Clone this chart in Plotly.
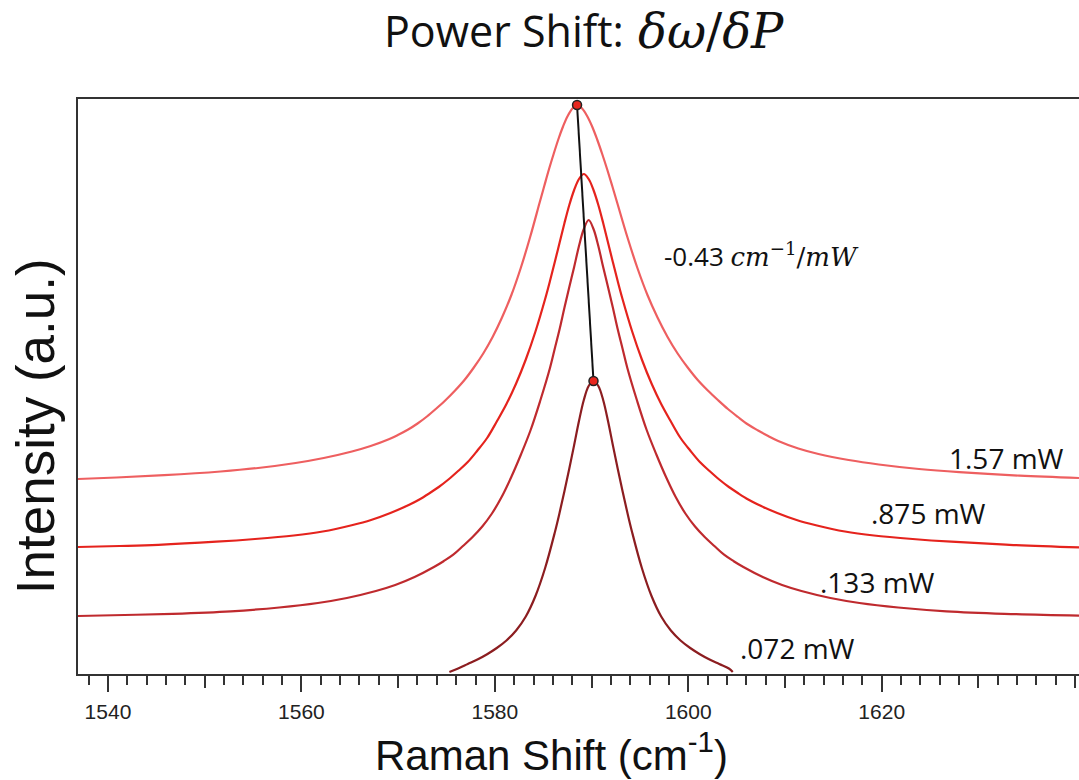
import plotly.graph_objects as go

# ---- data (Raman shift in cm^-1, intensity in arbitrary units incl. stacking offset) ----
x_157 = [1536.90, 1540.87, 1545.82, 1551.64, 1555.52, 1559.40, 1562.31, 1565.22, 1567.16, 1569.10,
         1570.07, 1571.04, 1572.01, 1572.98, 1573.95, 1574.92, 1575.89, 1576.86, 1577.83, 1578.80,
         1579.77, 1580.74, 1581.71, 1582.68, 1583.65, 1584.62, 1585.11, 1585.59, 1586.08, 1586.56,
         1587.05, 1587.53, 1588.02, 1588.50, 1589.02, 1589.54, 1590.06, 1590.58, 1591.10, 1591.62,
         1592.14, 1592.66, 1593.70, 1594.74, 1595.78, 1596.82, 1597.86, 1598.90, 1599.94, 1600.98,
         1602.02, 1603.06, 1604.10, 1605.14, 1606.18, 1607.22, 1608.26, 1609.30, 1611.38, 1613.46,
         1616.58, 1619.70, 1623.86, 1628.02, 1634.26, 1640.40]
y_157 = [195, 196.5, 198.8, 202.5, 206, 211, 216, 222.5, 228, 235,
         239.5, 244.5, 250.5, 257.5, 265.5, 274, 283.5, 294, 306.5, 320.5,
         337, 356.5, 379, 406, 437, 471, 488, 504.5, 520, 534.5,
         547.5, 558, 565.5, 569, 565.5, 558, 547.5, 534.5, 520, 504.5,
         488, 471, 437, 406, 379, 356.5, 337, 320.5, 306.5, 294,
         283.5, 274, 265, 257, 249.5, 243.5, 238, 233, 225.5, 220,
         214, 209.5, 205, 201.8, 198.3, 196]

x_0875 = [1536.9, 1541.2, 1545.2, 1551.2, 1555.2, 1559.2, 1562.2, 1565.2, 1567.2, 1569.2,
          1571.2, 1572.2, 1573.2, 1574.2, 1575.2, 1576.2, 1577.2, 1578.2, 1579.2, 1580.2,
          1581.2, 1582.2, 1583.2, 1584.2, 1585.2, 1585.7, 1586.2, 1586.7, 1587.2, 1587.7,
          1588.2, 1588.7, 1589.2, 1589.7, 1590.2, 1590.7, 1591.2, 1591.7, 1592.2, 1592.7,
          1593.2, 1594.2, 1595.2, 1596.2, 1597.2, 1598.2, 1599.2, 1600.2, 1601.2, 1602.2,
          1603.2, 1604.2, 1605.2, 1606.2, 1607.2, 1609.2, 1611.2, 1613.2, 1616.2, 1619.2,
          1623.2, 1627.2, 1633.2, 1640.4]
y_0875 = [127, 128, 129.2, 132.3, 135, 138.5, 142.5, 148.8, 154, 161,
          169.5, 174.5, 180.5, 187, 194.5, 203, 212, 223.5, 236, 252.5,
          270, 290.5, 314.5, 342.5, 375, 393, 412, 431.5, 451, 469,
          484, 495, 500, 495, 484, 469, 451, 431.5, 412, 393,
          375, 342.5, 314.5, 290.5, 270, 252.5, 236, 223.5, 212, 203,
          194.5, 187, 180.5, 174.5, 169.5, 161, 154, 148.8, 142.5, 138.5,
          135, 132.3, 129.2, 126.6]

x_0133 = [1536.9, 1541.7, 1546.7, 1552.7, 1557.7, 1561.7, 1564.7, 1567.7, 1569.7, 1571.7,
          1573.7, 1574.7, 1575.7, 1576.7, 1577.7, 1578.7, 1579.7, 1580.7, 1581.7, 1582.7,
          1583.7, 1584.7, 1585.7, 1586.2, 1586.7, 1587.2, 1587.7, 1588.2, 1588.7, 1589.2,
          1589.7, 1590.2, 1590.7, 1591.2, 1591.7, 1592.2, 1592.7, 1593.2, 1593.7, 1594.7,
          1595.7, 1596.7, 1597.7, 1598.7, 1599.7, 1600.7, 1601.7, 1602.7, 1603.7, 1604.7,
          1605.7, 1607.7, 1609.7, 1611.7, 1614.7, 1617.7, 1621.7, 1626.7, 1632.7, 1640.4]
y_0133 = [58, 59, 60.2, 62.7, 66.5, 71, 76, 83, 89, 97,
          107, 112.8, 119.3, 128, 137, 147.5, 160.5, 177, 197, 219.5,
          244, 273.5, 306, 325.5, 345, 366.5, 387, 407, 428, 445,
          454, 445, 428, 407, 387, 366.5, 345, 325.5, 306, 273.5,
          244, 219.5, 197, 177, 160.5, 147.5, 137, 128, 119.3, 112.8,
          107, 97, 89, 83, 76, 71, 66.5, 62.7, 60.2, 58.3]

x_0072 = [1575.3, 1576.2, 1577.2, 1578.2, 1579.2, 1580.2, 1581.2, 1582.2, 1583.2, 1584.2,
          1585.2, 1586.2, 1586.7, 1587.2, 1587.7, 1588.2, 1588.7, 1589.2, 1589.7, 1590.2,
          1590.7, 1591.2, 1591.7, 1592.2, 1592.7, 1593.2, 1593.7, 1594.2, 1595.2, 1596.2,
          1597.2, 1598.2, 1599.2, 1600.2, 1601.2, 1602.2, 1603.2, 1604.2, 1604.6]
y_0072 = [2, 5.5, 10, 14.5, 19.8, 26, 33.5, 43.5, 57.5, 78,
          106, 141.5, 161.5, 183, 205.5, 229, 253, 274, 288, 293,
          288, 274, 253, 229, 205.5, 183, 161.5, 141.5, 106, 78,
          57.5, 43.5, 33.5, 26, 19.8, 14.5, 10, 5.5, 2]

peak_x = [1588.5, 1590.2]
peak_y = [569, 293]

power_labels = ["1.57 mW", ".875 mW", ".133 mW", ".072 mW"]
tick_vals = [1540, 1560, 1580, 1600, 1620]

series = [
    (x_157, y_157, "#EE5F60", power_labels[0]),
    (x_0875, y_0875, "#E5231D", power_labels[1]),
    (x_0133, y_0133, "#BF2A2E", power_labels[2]),
    (x_0072, y_0072, "#8C1D20", power_labels[3]),
]

X_RANGE = [1536.9, 1640.4]
Y_RANGE = [0, 575]

fig = go.Figure()
for xs, ys, col, name in series:
    fig.add_trace(go.Scatter(x=xs, y=ys, mode="lines", name=name,
                             line=dict(color=col, width=2.2, shape="spline", smoothing=1.0),
                             hoverinfo="skip", showlegend=False))

fig.add_trace(go.Scatter(x=peak_x, y=peak_y, mode="lines",
                         line=dict(color="#111111", width=2), showlegend=False, hoverinfo="skip"))
fig.add_trace(go.Scatter(x=peak_x, y=peak_y, mode="markers",
                         marker=dict(color="#E8261E", size=9, line=dict(color="#222222", width=1.5)),
                         showlegend=False, hoverinfo="skip", cliponaxis=False))

# helper trace so the medium-tick overlay axis renders
fig.add_trace(go.Scatter(x=[1550], y=[-1000], xaxis="x2", mode="markers",
                         marker=dict(opacity=0), showlegend=False, hoverinfo="skip"))

tick_font = dict(family="Liberation Sans, Arial, sans-serif", size=21, color="#222222")

fig.update_layout(
    width=1079, height=780,
    margin=dict(l=78, r=0, t=99, b=106),
    paper_bgcolor="white", plot_bgcolor="white",
    xaxis=dict(range=X_RANGE, tickmode="array", tickvals=tick_vals,
               ticktext=[str(v) for v in tick_vals],
               ticks="outside", ticklen=16, tickwidth=1.5, tickcolor="#333333",
               minor=dict(tickmode="linear", tick0=1540, dtick=2, ticks="outside",
                          ticklen=9, tickwidth=1.5, tickcolor="#333333", showgrid=False),
               showline=True, linecolor="#333333", linewidth=2, mirror=True,
               showgrid=False, zeroline=False, tickfont=tick_font, ticklabelstandoff=2),
    xaxis2=dict(range=X_RANGE, overlaying="x", anchor="y", side="bottom",
                tickmode="linear", tick0=1540, dtick=10, ticks="outside", ticklen=13,
                tickwidth=1.5, tickcolor="#333333", showticklabels=False,
                showline=False, showgrid=False, zeroline=False),
    yaxis=dict(range=Y_RANGE, showline=True, linecolor="#333333", linewidth=2,
               ticks="", showticklabels=False, showgrid=False, zeroline=False),
)

math_font = "DejaVu Serif"
ann = []
# title split in two pieces: plain text + math part
ann.append(dict(x=0.5475, y=1.119, xref="paper", yref="paper",
                text="Power Shift:",
                font=dict(family="Open Sans, sans-serif", size=43, color="#111111"),
                showarrow=False, xanchor="right", yanchor="middle"))
ann.append(dict(x=0.5574, y=1.119, xref="paper", yref="paper",
                text="<i>δω</i>/<i>δP</i>",
                font=dict(family=math_font, size=48, color="#111111"),
                showarrow=False, xanchor="left", yanchor="middle"))
ann.append(dict(x=1607.6, y=418, xref="x", yref="y",
                text=("-0.43 <span style=\"font-family:'%s'\"><i>cm</i><sup>−1</sup>/<i>mW</i></span>" % math_font),
                font=dict(family="Open Sans, sans-serif", size=26, color="#111111"),
                showarrow=False, xanchor="center", yanchor="middle"))
label_pos = [(1632.9, 216), (1624.8, 161), (1619.6, 92), (1611.3, 26)]
for (lx, ly), lab in zip(label_pos, power_labels):
    ann.append(dict(x=lx, y=ly, xref="x", yref="y", text=lab,
                    font=dict(family="Open Sans, sans-serif", size=28, color="#111111"),
                    showarrow=False, xanchor="center", yanchor="middle"))
ann.append(dict(x=0.4735, y=-0.136, xref="paper", yref="paper",
                text="Raman Shift (cm<sup>-1</sup>)",
                font=dict(family="Liberation Sans, Arial, sans-serif", size=42, color="#111111"),
                showarrow=False, xanchor="center", yanchor="middle"))
ann.append(dict(x=-0.043, y=0.431, xref="paper", yref="paper",
                text="Intensity (a.u.)", textangle=-90,
                font=dict(family="Liberation Sans, Arial, sans-serif", size=53, color="#111111"),
                showarrow=False, xanchor="center", yanchor="middle"))
fig.update_layout(annotations=ann)

fig.write_html("out.html")
